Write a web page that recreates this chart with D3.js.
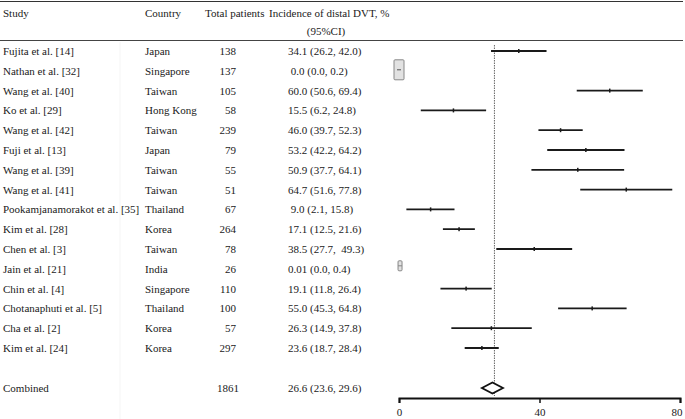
<!DOCTYPE html>
<html>
<head>
<meta charset="utf-8">
<title>Distal DVT forest plot</title>
<script src="https://cdn.jsdelivr.net/npm/d3@7/dist/d3.min.js"></script>
<style>
  body { margin: 0; background: #fff; }
</style>
</head>
<body>
<svg id="chart"></svg>
<script>
  var studies = ['Fujita et al. [14]', 'Nathan et al. [32]', 'Wang et al. [40]', 'Ko et al. [29]',
    'Wang et al. [42]', 'Fuji et al. [13]', 'Wang et al. [39]', 'Wang et al. [41]',
    'Pookamjanamorakot et al. [35]', 'Kim et al. [28]', 'Chen et al. [3]', 'Jain et al. [21]',
    'Chin et al. [4]', 'Chotanaphuti et al. [5]', 'Cha et al. [2]', 'Kim et al. [24]'];
  var countries = ['Japan', 'Singapore', 'Taiwan', 'Hong Kong', 'Taiwan', 'Japan', 'Taiwan', 'Taiwan',
    'Thailand', 'Korea', 'Taiwan', 'India', 'Singapore', 'Thailand', 'Korea', 'Korea'];
  var patients = [138, 137, 105, 58, 239, 79, 55, 51, 67, 264, 78, 26, 110, 100, 57, 297];
  var estimate = [34.1, 0.0, 60.0, 15.5, 46.0, 53.2, 50.9, 64.7, 9.0, 17.1, 38.5, 0.01, 19.1, 55.0, 26.3, 23.6];
  var lower = [26.2, 0.0, 50.6, 6.2, 39.7, 42.2, 37.7, 51.6, 2.1, 12.5, 27.7, 0.0, 11.8, 45.3, 14.9, 18.7];
  var upper = [42.0, 0.2, 69.4, 24.8, 52.3, 64.2, 64.1, 77.8, 15.8, 21.6, 49.3, 0.4, 26.4, 64.8, 37.8, 28.4];
  var ciLabels = ['34.1 (26.2, 42.0)', ' 0.0 (0.0, 0.2)', '60.0 (50.6, 69.4)', '15.5 (6.2, 24.8)',
    '46.0 (39.7, 52.3)', '53.2 (42.2, 64.2)', '50.9 (37.7, 64.1)', '64.7 (51.6, 77.8)',
    ' 9.0 (2.1, 15.8)', '17.1 (12.5, 21.6)', '38.5 (27.7,  49.3)', '0.01 (0.0, 0.4)',
    '19.1 (11.8, 26.4)', '55.0 (45.3, 64.8)', '26.3 (14.9, 37.8)', '23.6 (18.7, 28.4)'];
  var combined = { name: 'Combined', total: 1861, est: 26.6, lo: 23.6, hi: 29.6, label: '26.6 (23.6, 29.6)' };
  var xTicks = [0, 40, 80];

  var W = 685, H = 419;
  var FONT = 'Liberation Serif';
  var svg = d3.select('#chart').attr('width', W).attr('height', H)
    .attr('font-family', FONT).attr('font-size', 11);

  var x = d3.scaleLinear().domain([0, 80]).range([399, 680]);
  var y = d3.scalePoint().domain(d3.range(studies.length)).range([51, 348]);
  var yComb = 388;

  function label(g, tx, ty, str) {
    return g.append('text').attr('x', tx).attr('y', ty)
      .attr('font-family', FONT).attr('font-size', 11).attr('fill', '#1a1a1a').text(str);
  }

  // table rules
  svg.append('line').attr('x1', 0).attr('x2', 683).attr('y1', 1.5).attr('y2', 1.5)
    .attr('stroke', '#333').attr('stroke-width', 1.2);
  svg.append('line').attr('x1', 0).attr('x2', 683).attr('y1', 40.5).attr('y2', 40.5)
    .attr('stroke', '#444').attr('stroke-width', 1);
  svg.append('line').attr('x1', 120).attr('x2', 120).attr('y1', 42).attr('y2', 419)
    .attr('stroke', '#f5f5f5');

  // header
  label(svg, 3, 17, 'Study');
  label(svg, 145, 17, 'Country');
  label(svg, 205, 17, 'Total patients');
  label(svg, 269, 17, 'Incidence of distal DVT, %');
  label(svg, 326, 35, '(95%CI)').attr('text-anchor', 'middle');

  // rows of the table
  studies.forEach(function (s, i) {
    var ty = y(i) + 4;
    label(svg, 3, ty, s);
    label(svg, 145, ty, countries[i]);
    label(svg, 236, ty, patients[i]).attr('text-anchor', 'end');
    label(svg, 288, ty, ciLabels[i]).attr('xml:space', 'preserve').style('white-space', 'pre');
  });

  label(svg, 3, yComb + 4, combined.name);
  label(svg, 239, yComb + 4, combined.total).attr('text-anchor', 'end');
  label(svg, 288, yComb + 4, combined.label);

  // reference line at pooled estimate
  svg.append('line').attr('x1', x(combined.est) + 2).attr('x2', x(combined.est) + 2)
    .attr('y1', 45).attr('y2', 396)
    .attr('stroke', '#666').attr('stroke-width', 1).attr('stroke-dasharray', '1.5,1');

  // CI lines
  var plot = svg.append('g');
  studies.forEach(function (s, i) {
    var x1 = x(lower[i]), x2 = x(upper[i]), cy = y(i);
    if (x2 - x1 < 3) {
      // tiny intervals rendered as small boxes
      var wide = patients[i] > 100;
      var bw = wide ? 10 : 4, bh = wide ? 20 : 10;
      var bx = x(estimate[i]) - (wide ? 5 : 1), by = cy - bh / 2 - (wide ? 1 : 3);
      plot.append('rect').attr('x', bx).attr('y', by).attr('width', bw).attr('height', bh)
        .attr('fill', '#e2e2e2').attr('stroke', '#888').attr('stroke-width', 1).attr('rx', 1);
      plot.append('line').attr('x1', bx + (wide ? 3 : 0)).attr('x2', bx + bw - (wide ? 3 : 0))
        .attr('y1', by + bh / 2).attr('y2', by + bh / 2)
        .attr('stroke', wide ? '#555' : '#888').attr('stroke-width', 1);
      return;
    }
    plot.append('line').attr('x1', x1).attr('x2', x2).attr('y1', cy).attr('y2', cy)
      .attr('stroke', '#1a1a1a').attr('stroke-width', 1.8);
    plot.append('rect').attr('x', x(estimate[i]) - 0.75).attr('y', cy - 2)
      .attr('width', 1.5).attr('height', 4).attr('fill', '#1a1a1a');
  });

  // combined diamond
  var dh = 5.5;
  plot.append('path')
    .attr('d', 'M' + x(combined.lo) + ',' + yComb + 'L' + x(combined.est) + ',' + (yComb - dh) +
      'L' + x(combined.hi) + ',' + yComb + 'L' + x(combined.est) + ',' + (yComb + dh) + 'Z')
    .attr('fill', '#fff').attr('stroke', '#111').attr('stroke-width', 1.8);

  // axis
  var xAxis = d3.axisBottom(x).tickValues(xTicks).tickSize(5).tickPadding(5);
  var ax = svg.append('g').attr('transform', 'translate(0,398)').call(xAxis)
    .attr('font-family', FONT).attr('font-size', 11);
  ax.select('.domain').attr('stroke', '#111').attr('stroke-width', 2);
  ax.selectAll('.tick line').attr('stroke', '#111').attr('stroke-width', 1.5);
  ax.selectAll('.tick text').attr('fill', '#1a1a1a');
  ax.selectAll('.tick text').filter((d, i, n) => i === n.length - 1)
    .attr('text-anchor', 'end').attr('x', 2);
</script>
</body>
</html>
